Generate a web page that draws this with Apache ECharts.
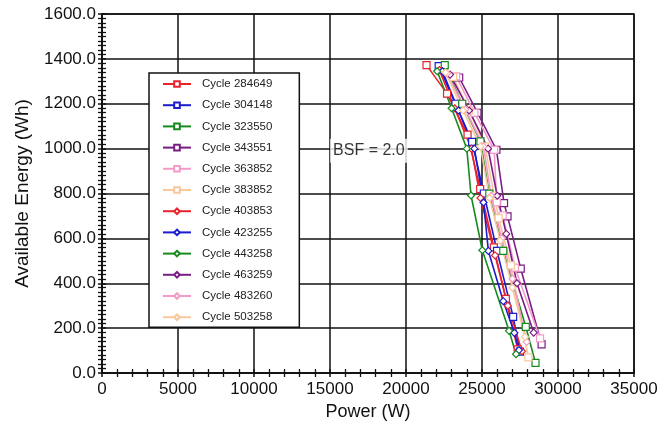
<!DOCTYPE html>
<html>
<head>
<meta charset="utf-8">
<script src="https://cdn.jsdelivr.net/npm/echarts@6/dist/echarts.min.js"></script>
<style>html,body{margin:0;padding:0;background:#fff}#c{width:664px;height:431px}</style>
</head>
<body>
<div id="c"></div>
<script>
// ---- data ----
const seriesNames = ["Cycle 284649","Cycle 304148","Cycle 323550","Cycle 343551","Cycle 363852","Cycle 383852",
                     "Cycle 403853","Cycle 423255","Cycle 443258","Cycle 463259","Cycle 483260","Cycle 503258"];
const c284649 = [[21350,1372],[22700,1245],[24050,1062],[24880,820],[25780,560],[26570,330],[27350,105]];
const c304148 = [[22150,1368],[23250,1200],[24350,1030],[25120,800],[25990,544],[27050,250],[27500,95]];
const c323550 = [[22550,1372],[23700,1200],[24900,1032],[25480,799],[26400,544],[27880,206],[28520,45]];
const c343551 = [[23500,1317],[24700,1160],[25950,995],[26450,757],[26680,698],[27550,465],[28920,128]];
const c363852 = [[23300,1322],[24500,1160],[25800,994],[25970,761],[26360,702],[27170,470],[28820,154]];
const c383852 = [[23100,1320],[24150,1170],[25200,1010],[25800,790],[26100,690],[26900,480],[28050,70]];
const c403853 = [[22200,1350],[23200,1180],[24300,1000],[24900,780],[25860,524],[26700,300],[27630,97]];
const c423255 = [[22400,1345],[23450,1170],[24500,1000],[25100,760],[25420,544],[26400,320],[27130,179],[27430,102]];
const c443258 = [[22050,1345],[23000,1180],[24000,1000],[24280,791],[25020,547],[26780,188],[27240,84]];
const c463259 = [[22900,1330],[24150,1170],[25400,1000],[26000,790],[26600,620],[27300,400],[28400,180]];
const c483260 = [[22700,1335],[23900,1175],[25100,1010],[25600,790],[26300,600],[27000,420],[27940,139]];
const c503258 = [[22600,1340],[23750,1170],[24900,1010],[25500,780],[26200,590],[27000,380],[27830,161]];
const seriesData = [c284649,c304148,c323550,c343551,c363852,c383852,c403853,c423255,c443258,c463259,c483260,c503258];
const colors = ["#e8232b","#1c1ccf","#178a1f","#7b1d86","#f59ac8","#f9c79c",
                "#e8232b","#1c1ccf","#178a1f","#7b1d86","#f59ac8","#f9c79c"];
const symbols = ["rect","rect","rect","rect","rect","rect","diamond","diamond","diamond","diamond","diamond","diamond"];
const annotationText = "BSF = 2.0";
const annotationPos = [17560, 990];
const xMin = 0, xMax = 35000, xStep = 5000;
const yMin = 0, yMax = 1600, yStep = 200;

const FONT = "'Liberation Sans', Arial, Helvetica, sans-serif";
const chart = echarts.init(document.getElementById('c'), null, {renderer:'canvas'});

const series = seriesData.map((d,i)=>({
  name: seriesNames[i], type:'line', data:d, xAxisIndex:0, yAxisIndex:0,
  symbol: symbols[i], symbolSize: 7,
  showAllSymbol:true,
  lineStyle:{color:colors[i], width:1.6},
  itemStyle:{color:'#fff', borderColor:colors[i], borderWidth:1.2},
  emphasis:{disabled:true}, animation:false, z:3
}));
series.push({
  type:'scatter', data:[annotationPos], symbolSize:0, silent:true, z:10,
  label:{show:true, position:'inside', formatter:annotationText, backgroundColor:'#fff',
         color:'#000', fontSize:16, fontFamily:FONT, padding:[4,3,4,3]}
});

const axisCommonX = {type:'value', min:xMin, max:xMax, interval:xStep, gridIndex:0};
const axisCommonY = {type:'value', min:yMin, max:yMax, interval:yStep, gridIndex:0};

chart.setOption({
  animation:false,
  backgroundColor:'#fff',
  grid:{left:102, right:30, top:14, bottom:58, show:true, borderColor:'#111', borderWidth:1.5, backgroundColor:'transparent'},
  legend:{
    data: seriesNames, orient:'vertical', left:149, top:73,
    padding:[5,27,4,13], itemGap:9.2, itemWidth:28, itemHeight:7,
    backgroundColor:'#fff', borderColor:'#111', borderWidth:1.5,
    textStyle:{fontSize:11.5, fontFamily:FONT, color:'#222', padding:[0,0,0,6]},
    selectedMode:false, z:20
  },
  xAxis:[
    Object.assign({}, axisCommonX, {
      position:'bottom',
      name:'Power (W)', nameLocation:'middle', nameGap:30,
      nameTextStyle:{fontSize:18, fontFamily:FONT, color:'#111'},
      axisLine:{show:true, onZero:false, lineStyle:{color:'#111', width:1.5}},
      axisTick:{show:true, inside:false, length:4, lineStyle:{color:'#111', width:1.5}},
      minorTick:{show:true, splitNumber:5, length:4, lineStyle:{color:'#111', width:1.3}},
      axisLabel:{fontSize:17, fontFamily:FONT, color:'#111', margin:8, formatter:v=>String(v)},
      splitLine:{show:true, lineStyle:{color:'#111', width:1.5}}
    }),
    Object.assign({}, axisCommonX, {
      position:'bottom', offset:0,
      axisLine:{show:false, onZero:false},
      axisTick:{show:true, inside:true, length:4, lineStyle:{color:'#111', width:1.5}},
      minorTick:{show:true, splitNumber:5, length:4, lineStyle:{color:'#111', width:1.3}},
      axisLabel:{show:false}, splitLine:{show:false}
    })
  ],
  yAxis:[
    Object.assign({}, axisCommonY, {
      position:'left',
      name:'Available Energy (Wh)', nameLocation:'middle', nameGap:70, nameRotate:90,
      nameTextStyle:{fontSize:19, fontFamily:FONT, color:'#111'},
      axisLine:{show:true, onZero:false, lineStyle:{color:'#111', width:1.5}},
      axisTick:{show:true, inside:false, length:4, lineStyle:{color:'#111', width:1.5}},
      minorTick:{show:true, splitNumber:10, length:4, lineStyle:{color:'#111', width:1.3}},
      axisLabel:{fontSize:17, fontFamily:FONT, color:'#111', margin:6, formatter:v=>v.toFixed(1)},
      splitLine:{show:true, lineStyle:{color:'#111', width:1.5}}
    }),
    Object.assign({}, axisCommonY, {
      position:'left', offset:0,
      axisLine:{show:false, onZero:false},
      axisTick:{show:true, inside:true, length:4, lineStyle:{color:'#111', width:1.5}},
      minorTick:{show:true, splitNumber:10, length:4, lineStyle:{color:'#111', width:1.3}},
      axisLabel:{show:false}, splitLine:{show:false}
    })
  ],
  series: series
});
</script>
</body>
</html>
